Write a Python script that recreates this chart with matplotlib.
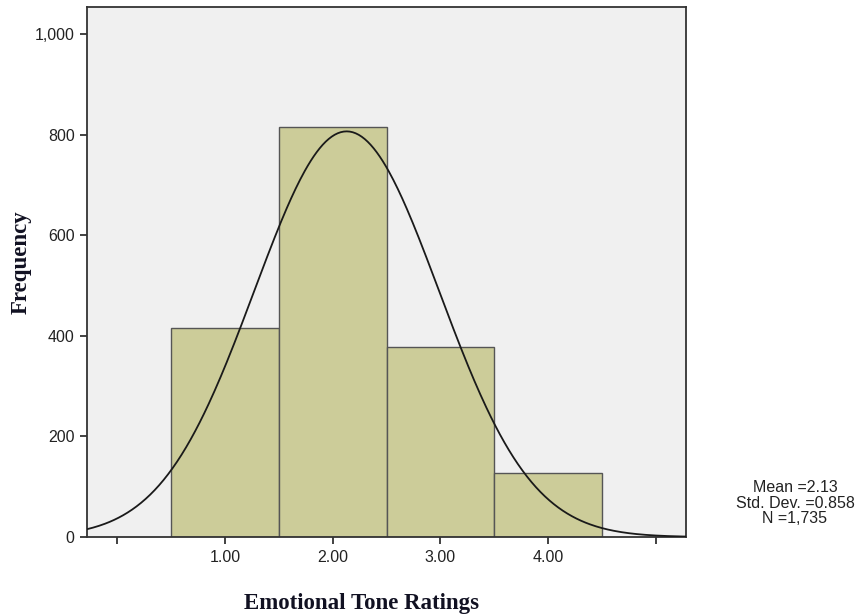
import numpy as np
import matplotlib.pyplot as plt
from matplotlib.ticker import FuncFormatter

# histogram of ratings (bin centres and counts) plus summary stats
bin_centers = [1.0, 2.0, 3.0, 4.0]
counts = [415, 816, 377, 127]
mean = 2.13
std_dev = 0.858
n_total = 1735
x_ticks = [0, 1, 2, 3, 4, 5]
x_tick_labels = ['', '1.00', '2.00', '3.00', '4.00', '']
y_ticks = [0, 200, 400, 600, 800, 1000]

fig = plt.figure(figsize=(8.65, 6.16), dpi=100)
ax = fig.add_axes([0.1006, 0.1282, 0.6925, 0.8604])
ax.set_facecolor('#f0f0f0')

ax.bar(bin_centers, counts, width=1.0, color='#cccc99', edgecolor='#555555',
       linewidth=1.0, zorder=2)

# normal curve scaled to the histogram (bin width = 1)
xlo, xhi = -0.28, 5.28
xs = np.linspace(xlo, xhi, 400)
ys = n_total * 1.0 / (std_dev * np.sqrt(2 * np.pi)) * np.exp(-0.5 * ((xs - mean) / std_dev) ** 2)
ax.plot(xs, ys, color='#1a1a1a', linewidth=1.3, zorder=3)

ax.set_xlim(xlo, xhi)
ax.set_ylim(0, 1054)
ax.set_xticks(x_ticks)
ax.set_xticklabels(x_tick_labels)
ax.set_yticks(y_ticks)
ax.yaxis.set_major_formatter(FuncFormatter(lambda v, p: f'{int(v):,}'))

for s in ax.spines.values():
    s.set_color('#333333')
    s.set_linewidth(1.3)
ax.tick_params(direction='out', length=5, width=1.3, color='#333333',
               labelsize=11.5, labelcolor='#222222', pad=4)
for lab in ax.get_xticklabels() + ax.get_yticklabels():
    lab.set_fontfamily('Liberation Sans')

fig.text(362 / 865, 1 - 604 / 616, 'Emotional Tone Ratings', ha='center', va='center',
         fontfamily='Liberation Serif', fontweight='bold', fontsize=16.5, color='#111122')
fig.text(21 / 865, 1 - 262 / 616, 'Frequency', ha='center', va='center', rotation=90,
         fontfamily='Liberation Serif', fontweight='bold', fontsize=16.5, color='#111122')

fig.text(795 / 865, 1 - 503 / 616, f'Mean ={mean:.2f}\nStd. Dev. ={std_dev:.3f}\nN ={n_total:,}',
         ha='center', va='center', fontsize=11.5, fontfamily='Liberation Sans',
         color='#222222', linespacing=1.02)

fig.savefig('out.png', dpi=100, facecolor='white')
